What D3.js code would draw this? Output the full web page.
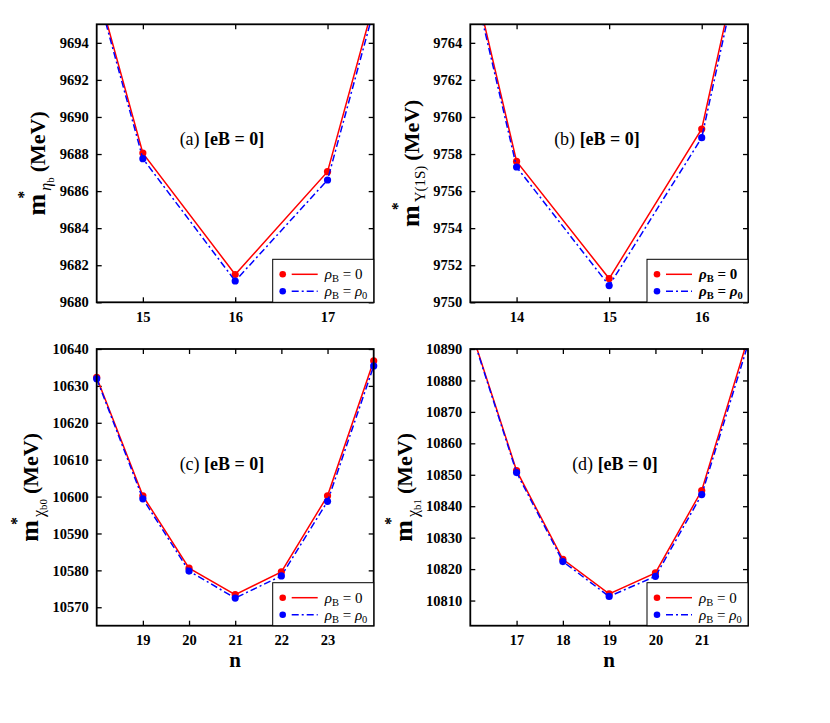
<!DOCTYPE html>
<html><head><meta charset="utf-8">
<script src="https://cdn.jsdelivr.net/npm/d3@7"></script>
<style>body{margin:0;background:#fff} svg{display:block}</style>
</head><body><svg id="c" width="830" height="723"></svg>
<script>
// ---- data ----
const nA = [14, 15, 16, 17, 18];
const redA = [9706.1, 9688.05, 9681.5, 9687.05, 9705.2];
const blueA = [9706.0, 9687.75, 9681.15, 9686.6, 9704.9];
const xTicksA = [15, 16, 17];
const yTicksA = [9680, 9682, 9684, 9686, 9688, 9690, 9692, 9694];

const nB = [13, 14, 15, 16, 17];
const redB = [9778.9, 9757.6, 9751.28, 9759.35, 9782.0];
const blueB = [9778.7, 9757.3, 9750.9, 9758.88, 9781.8];
const xTicksB = [14, 15, 16];
const yTicksB = [9750, 9752, 9754, 9756, 9758, 9760, 9762, 9764];

const nC = [18, 19, 20, 21, 22, 23, 24];
const redC = [10632.3, 10600.2, 10580.6, 10573.4, 10579.6, 10600.2, 10636.8];
const blueC = [10631.95, 10599.4, 10579.8, 10572.5, 10578.5, 10598.7, 10635.4];
const xTicksC = [19, 20, 21, 22, 23];
const yTicksC = [10570, 10580, 10590, 10600, 10610, 10620, 10630, 10640];

const nD = [16, 17, 18, 19, 20, 21, 22];
const redD = [10896.6, 10851.3, 10823.1, 10812.1, 10818.8, 10845.0, 10893.4];
const blueD = [10896.3, 10850.7, 10822.4, 10811.3, 10817.7, 10843.7, 10891.5];
const xTicksD = [17, 18, 19, 20, 21];
const yTicksD = [10810, 10820, 10830, 10840, 10850, 10860, 10870, 10880, 10890];

const FF = '"Liberation Serif"';
const RED = "#ff0000", BLUE = "#0000ff";
const svg = d3.select("#c");

function panel(p) {
  const x = d3.scaleLinear().domain(p.xd).range([p.x0, p.x1]);
  const y = d3.scaleLinear().domain(p.yd).range([p.y1, p.y0]);
  const g = svg.append("g");
  const cid = "clip" + p.id;
  svg.append("defs").append("clipPath").attr("id", cid)
    .append("rect").attr("x", p.x0).attr("y", p.y0).attr("width", p.x1 - p.x0).attr("height", p.y1 - p.y0);

  const ax = (gen, tr, labels) => {
    const a = g.append("g").attr("transform", tr).call(gen);
    a.attr("font-family", null).attr("font-size", null);
    a.select(".domain").remove();
    a.selectAll(".tick line").attr("stroke", "#000").attr("stroke-width", 1.3);
    a.selectAll("text").style("font-family", FF).style("font-weight", "bold").style("font-size", "14.5px").attr("fill", "#000");
    if (!labels) a.selectAll("text").remove();
    return a;
  };
  ax(d3.axisBottom(x).tickValues(p.xt).tickSizeInner(-5).tickSizeOuter(0).tickPadding(9).tickFormat(d3.format("d")), `translate(0,${p.y1})`, true);
  ax(d3.axisTop(x).tickValues(p.xt).tickSizeInner(-5).tickSizeOuter(0), `translate(0,${p.y0})`, false);
  ax(d3.axisLeft(y).tickValues(p.yt).tickSizeInner(-5).tickSizeOuter(0).tickPadding(8).tickFormat(d3.format("d")), `translate(${p.x0},0)`, true);
  ax(d3.axisRight(y).tickValues(p.yt).tickSizeInner(-5).tickSizeOuter(0), `translate(${p.x1},0)`, false);

  const pts = (vals) => p.n.map((n, i) => ({ n, v: vals[i] }));
  const line = d3.line().x(d => x(d.n)).y(d => y(d.v));
  const inDom = d => d.n >= p.xd[0] && d.n <= p.xd[1] && d.v >= p.yd[0] && d.v <= p.yd[1];

  g.append("g").selectAll("circle").data(pts(p.red).filter(inDom)).join("circle")
    .attr("cx", d => x(d.n)).attr("cy", d => y(d.v)).attr("r", 3.6).attr("fill", RED);
  g.append("path").datum(pts(p.red)).attr("d", line).attr("clip-path", `url(#${cid})`)
    .attr("fill", "none").attr("stroke", RED).attr("stroke-width", 1.5);
  g.append("g").selectAll("circle").data(pts(p.blue).filter(inDom)).join("circle")
    .attr("cx", d => x(d.n)).attr("cy", d => y(d.v)).attr("r", 3.6).attr("fill", BLUE);
  g.append("path").datum(pts(p.blue)).attr("d", line).attr("clip-path", `url(#${cid})`)
    .attr("fill", "none").attr("stroke", BLUE).attr("stroke-width", 1.5).attr("stroke-dasharray", "7,3,2,3");

  g.append("rect").attr("x", p.x0).attr("y", p.y0).attr("width", p.x1 - p.x0).attr("height", p.y1 - p.y0)
    .attr("fill", "none").attr("stroke", "#000").attr("stroke-width", 1.8);

  const t = g.append("text").attr("x", p.ax).attr("y", p.ay).attr("text-anchor", "middle")
    .style("font-family", FF).style("font-size", "18px").attr("fill", "#000");
  t.append("tspan").text(p.tag + " ");
  t.append("tspan").style("font-weight", "bold").text("[eB = 0]");

  const lw = 101, lh = 43;
  const lx = p.x1 - lw, ly = p.y1 - lh;
  const lg = g.append("g").attr("transform", `translate(${lx},${ly})`);
  lg.append("rect").attr("width", lw).attr("height", lh).attr("fill", "#fff").attr("stroke", "#000").attr("stroke-width", 1);
  const rows = [{ c: RED, dash: null, r: "0", rsub: null }, { c: BLUE, dash: "7,3,2,3", r: "ρ", rsub: "0" }];
  rows.forEach((r, i) => {
    const yy = 15 + i * 17;
    lg.append("circle").attr("cx", 10).attr("cy", yy).attr("r", 3.3).attr("fill", r.c);
    lg.append("line").attr("x1", 19).attr("x2", 45).attr("y1", yy).attr("y2", yy)
      .attr("stroke", r.c).attr("stroke-width", 1.5).attr("stroke-dasharray", r.dash);
    const tx = lg.append("text").attr("x", 52).attr("y", yy + 5)
      .style("font-family", FF).style("font-size", "15px").attr("fill", "#000")
      .style("font-weight", p.boldLeg ? "bold" : "normal");
    tx.append("tspan").style("font-style", "italic").text("ρ");
    tx.append("tspan").style("font-size", "10.5px").attr("dy", 3).text("B");
    tx.append("tspan").attr("dy", -3).text(" = ");
    if (r.rsub) {
      tx.append("tspan").style("font-style", "italic").text(r.r);
      tx.append("tspan").style("font-size", "10.5px").attr("dy", 3).text(r.rsub);
    } else {
      tx.append("tspan").text(r.r);
    }
  });

  const yl = svg.append("text").attr("transform", `translate(${p.lx},${(p.y0 + p.y1) / 2}) rotate(-90)`)
    .attr("text-anchor", "middle").style("font-family", FF).style("font-weight", "bold").attr("fill", "#000");
  yl.append("tspan").style("font-size", "26px").text("m");
  yl.append("tspan").style("font-size", "16px").attr("dx", -5).attr("dy", -16).text("*");
  p.sub(yl);
  yl.append("tspan").style("font-size", "22px").attr("dx", 5).attr("dy", p.back).text("(MeV)");

  if (p.xlab) {
    svg.append("text").attr("x", (p.x0 + p.x1) / 2).attr("y", p.y1 + 41).attr("text-anchor", "middle")
      .style("font-family", FF).style("font-weight", "bold").style("font-size", "21px").text("n");
  }
}

const subGreek = (g1, s) => (t) => {
  t.append("tspan").style("font-size", "16px").style("font-weight", "normal").style("font-style", g1.it ? "italic" : "normal")
    .attr("dx", 0).attr("dy", 22).text(g1.ch);
  t.append("tspan").style("font-size", "11px").style("font-weight", "normal").style("font-style", "normal").attr("dy", 3).text(s);
};

panel({ id: "a", x0: 96.7, x1: 373.7, y0: 24.3, y1: 302.3, xd: [14.5, 17.5], yd: [9680, 9695],
  n: nA, red: redA, blue: blueA, xt: xTicksA, yt: yTicksA, tag: "(a)", ax: 222, ay: 145,
  lx: 45, sub: subGreek({ ch: "η", it: true }, "b"), back: -9, boldLeg: false });
panel({ id: "b", x0: 470.3, x1: 748, y0: 24.3, y1: 302.3, xd: [13.5, 16.5], yd: [9750, 9765],
  n: nB, red: redB, blue: blueB, xt: xTicksB, yt: yTicksB, tag: "(b)", ax: 597, ay: 145,
  lx: 419, sub: (t) => {
    t.append("tspan").style("font-size", "15px").style("font-weight", "normal").attr("dy", 22).text("Υ(1S)");
  }, back: -6, boldLeg: true });
panel({ id: "c", x0: 96.7, x1: 373.7, y0: 349, y1: 625.7, xd: [18, 24], yd: [10565, 10640],
  n: nC, red: redC, blue: blueC, xt: xTicksC, yt: yTicksC, tag: "(c)", ax: 222, ay: 470,
  lx: 38, sub: subGreek({ ch: "χ", it: false }, "b0"), back: -9, boldLeg: false, xlab: true });
panel({ id: "d", x0: 470.3, x1: 748, y0: 349, y1: 625.7, xd: [16, 22], yd: [10802, 10890],
  n: nD, red: redD, blue: blueD, xt: xTicksD, yt: yTicksD, tag: "(d)", ax: 615, ay: 470,
  lx: 412, sub: subGreek({ ch: "χ", it: false }, "b1"), back: -9, boldLeg: false, xlab: true });
</script></body></html>
